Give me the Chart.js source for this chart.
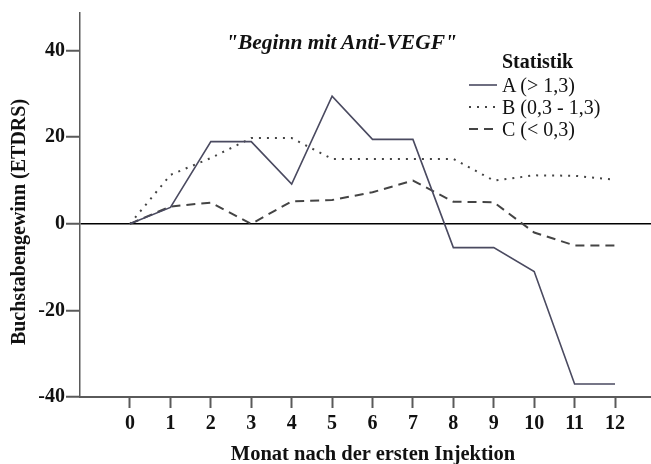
<!DOCTYPE html>
<html>
<head>
<meta charset="utf-8">
<script src="https://cdn.jsdelivr.net/npm/chart.js@4/dist/chart.umd.min.js"></script>
<style>
    html, body { margin: 0; padding: 0; background: #fff; }
    #wrap { position: relative; width: 651px; height: 464px; font-family: "Liberation Serif", "Times New Roman", serif; color: #111; }
    #chart { position: absolute; left: 0; top: 0; }
    #title { position: absolute; left: 0; width: 683px; top: 30px; text-align: center; font-size: 21.5px; font-weight: bold; font-style: italic; white-space: nowrap; }
    #xtitle { position: absolute; left: 73px; width: 600px; top: 440px; text-align: center; font-size: 20.5px; font-weight: bold; white-space: nowrap; line-height: 26px; }
    #ytitle { position: absolute; left: 18px; top: 222px; width: 300px; margin-left: -150px; margin-top: -13px; line-height: 26px; text-align: center; font-size: 20px; font-weight: bold; white-space: nowrap; transform: rotate(-90deg); }
    #legend { position: absolute; left: 468px; top: 50px; font-size: 20px; line-height: 22px; }
    #legend .head { font-weight: bold; padding-left: 34px; margin-bottom: 2px; }
    #legend .item { display: flex; align-items: center; white-space: nowrap; }
    #legend svg { margin-right: 4px; }
</style>
</head>
<body>
<div id="wrap">
    <canvas id="chart" width="651" height="464"></canvas>
    <div id="title">"Beginn mit Anti-VEGF"</div>
    <div id="xtitle">Monat nach der ersten Injektion</div>
    <div id="ytitle">Buchstabengewinn (ETDRS)</div>
    <div id="legend"></div>
</div>
<script>
// Daten
const months = [0, 1, 2, 3, 4, 5, 6, 7, 8, 9, 10, 11, 12];
const yTicks = [-40, -20, 0, 20, 40];
const seriesLabels = ['A (> 1,3)', 'B (0,3 - 1,3)', 'C (< 0,3)'];
const valuesA = [0, 3.8, 19, 19, 9.2, 29.5, 19.5, 19.5, -5.5, -5.5, -11, -37, -37];
const valuesB = [0, 11.3, 15.2, 19.8, 19.8, 15, 15, 15, 15, 10, 11.2, 11.1, 10.2];
const valuesC = [0, 4, 4.9, 0, 5.2, 5.5, 7.3, 10, 5.1, 5, -2, -5, -5];

const FONT = '"Liberation Serif", "Times New Roman", serif';

const lineStyles = [
    { color: '#4a4a60', width: 1.6, dash: [] },
    { color: '#444444', width: 2, dash: [2, 6] },
    { color: '#444444', width: 2, dash: [9, 6] }
];

function toPoints(values) {
    return months.map((m, i) => ({ x: m, y: values[i] }));
}

const allValues = [valuesA, valuesB, valuesC];
const datasets = allValues.map((vals, i) => ({
    label: seriesLabels[i],
    data: toPoints(vals),
    borderColor: lineStyles[i].color,
    borderWidth: lineStyles[i].width,
    borderDash: lineStyles[i].dash,
    pointRadius: 0,
    fill: false,
    tension: 0
}));

// Legende als HTML
const legendDiv = document.getElementById('legend');
let html = '<div class="head">Statistik</div>';
seriesLabels.forEach((label, i) => {
    const s = lineStyles[i];
    html += '<div class="item"><svg width="30" height="10"><line x1="1" y1="5" x2="29" y2="5" stroke="' + s.color +
        '" stroke-width="' + s.width + '" stroke-dasharray="' + (s.dash.length ? s.dash.join(',') : 'none') + '"/></svg>' +
        label.replace(/</g, '&lt;').replace(/>/g, '&gt;') + '</div>';
});
legendDiv.innerHTML = html;

const ctx = document.getElementById('chart').getContext('2d');
new Chart(ctx, {
    type: 'line',
    data: { datasets: datasets },
    options: {
        responsive: false,
        animation: false,
        layout: { padding: { top: 10, right: 0, left: 0, bottom: 0 } },
        plugins: {
            legend: { display: false },
            tooltip: { enabled: false }
        },
        scales: {
            x: {
                type: 'linear',
                min: -1.237,
                max: 12.89,
                afterBuildTicks: function(scale) {
                    scale.ticks = months.map(v => ({ value: v }));
                },
                afterFit: function(scale) { scale.height = 67; },
                border: { display: true, color: '#5a5a5a', width: 2 },
                grid: {
                    drawOnChartArea: false,
                    drawTicks: true,
                    tickLength: 11,
                    tickWidth: 2,
                    tickColor: '#5a5a5a'
                },
                ticks: {
                    color: '#111',
                    padding: 4,
                    maxRotation: 0,
                    autoSkip: false,
                    font: { family: FONT, size: 20, weight: 'bold' }
                },
                title: { display: false }
            },
            y: {
                min: -40,
                max: 48.7,
                afterBuildTicks: function(scale) {
                    scale.ticks = yTicks.map(v => ({ value: v }));
                },
                afterFit: function(scale) { scale.width = 80; },
                border: { display: true, color: '#5a5a5a', width: 1.5 },
                grid: {
                    drawOnChartArea: true,
                    drawTicks: true,
                    tickLength: 14,
                    tickWidth: 2,
                    tickColor: '#5a5a5a',
                    lineWidth: 1.5,
                    color: function(c) {
                        return c.tick && c.tick.value === 0 ? '#000' : 'rgba(0,0,0,0)';
                    }
                },
                ticks: {
                    color: '#111',
                    padding: 1,
                    font: { family: FONT, size: 20, weight: 'bold' }
                },
                title: { display: false }
            }
        }
    }
});
</script>
</body>
</html>
